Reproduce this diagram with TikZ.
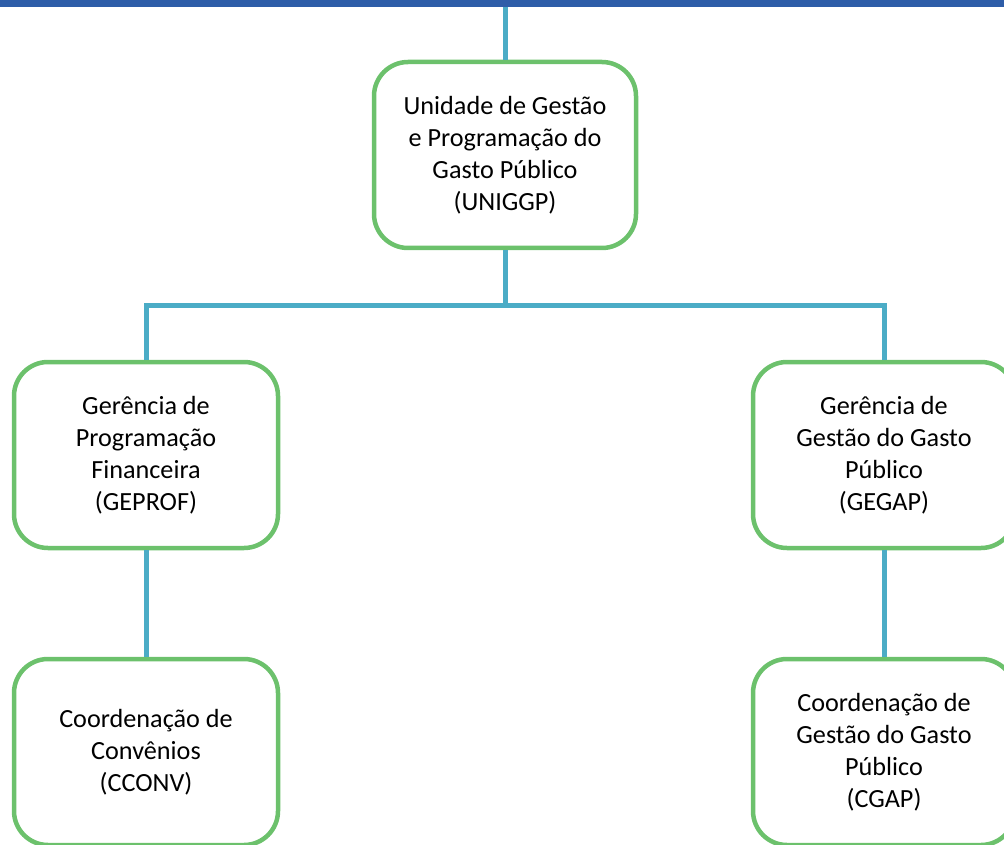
\documentclass[tikz,border=0pt]{standalone}
\usepackage{fontspec}
\setmainfont{Carlito}
\definecolor{barblue}{HTML}{2E5DA8}
\definecolor{linkblue}{HTML}{4BACC6}
\definecolor{boxgreen}{HTML}{6CC16C}
\begin{document}
\begin{tikzpicture}[x=1pt,y=-1pt,
  unit/.style={draw=boxgreen,line width=4.5pt,rounded corners=34pt,fill=white,
    align=center,inner sep=0pt,font=\fontsize{26.2}{32}\selectfont,text=black},
  link/.style={draw=linkblue,line width=5pt}]
\useasboundingbox (0,0) rectangle (1004,845);
\node[fill=barblue,minimum width=1004pt,minimum height=7pt,inner sep=0pt,anchor=north west] (bar) at (0,0) {};
\coordinate (hl) at (0,305);
\node[unit,minimum width=262pt,minimum height=186pt] (top) at (505,155)
  {Unidade de Gestão\\e Programação do\\Gasto Público\\(UNIGGP)};
\node[unit,minimum width=264pt,minimum height=186pt] (gl) at (146,455)
  {Gerência de\\Programação\\Financeira\\(GEPROF)};
\node[unit,minimum width=262pt,minimum height=186pt] (gr) at (884,455)
  {Gerência de\\Gestão do Gasto\\Público\\(GEGAP)};
\node[unit,minimum width=264pt,minimum height=186pt] (cl) at (146,752)
  {Coordenação de\\Convênios\\(CCONV)};
\node[unit,minimum width=262pt,minimum height=186pt] (cr) at (884,752)
  {Coordenação de\\Gestão do Gasto\\Público\\(CGAP)};
\draw[link] (top.north) -- (top.north |- bar.south);
\draw[link] (top.south) -- (top.south |- hl);
\draw[link] (gl.north) -- (gl.north |- hl) -- (gr.north |- hl) -- (gr.north);
\draw[link] (gl.south) -- (cl.north);
\draw[link] (gr.south) -- (cr.north);
\end{tikzpicture}
\end{document}
